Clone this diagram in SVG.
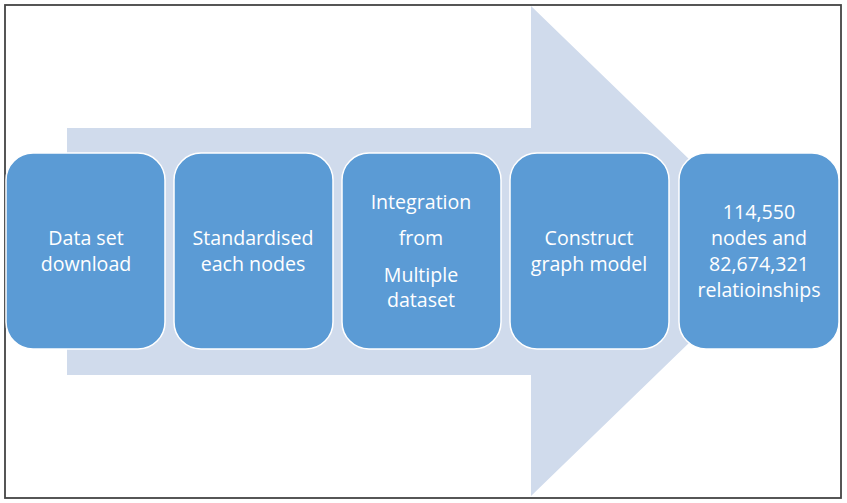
<svg xmlns="http://www.w3.org/2000/svg" width="847" height="503" viewBox="0 0 847 503">
<style>
.box{fill:#5B9BD5;stroke:#FFFFFF;stroke-width:1.5}
.t{font-family:"Open Sans","Liberation Sans",sans-serif;font-size:19.6px;fill:#FFFFFF;text-anchor:middle}
</style>
<rect x="0" y="0" width="847" height="503" fill="#FFFFFF"/>
<rect x="5" y="5" width="836" height="493" fill="#FFFFFF" stroke="#444444" stroke-width="1.8"/>
<g id="arrow">
<polygon points="67,128 531,128 531,6 784,251 531,496 531,375 67,375" fill="#D0DBEC"/>
</g>
<g id="connectors"></g>
<g id="n1">
<rect class="box" x="6" y="153" width="159" height="196" rx="27"/>
<text class="t" x="86" y="245">Data set</text>
<text class="t" x="86" y="271">download</text>
</g>
<g id="n2">
<rect class="box" x="174" y="153" width="159" height="196" rx="27"/>
<text class="t" x="253" y="245">Standardised</text>
<text class="t" x="253" y="271">each nodes</text>
</g>
<g id="n3">
<rect class="box" x="342" y="153" width="159" height="196" rx="27"/>
<text class="t" x="421" y="209">Integration</text>
<text class="t" x="421" y="245">from</text>
<text class="t" x="421" y="282">Multiple</text>
<text class="t" x="421" y="307">dataset</text>
</g>
<g id="n4">
<rect class="box" x="510" y="153" width="159" height="196" rx="27"/>
<text class="t" x="589" y="245">Construct</text>
<text class="t" x="589" y="271">graph model</text>
</g>
<g id="n5">
<rect class="box" x="679" y="153" width="160" height="196" rx="27"/>
<text class="t" x="759" y="219">114,550</text>
<text class="t" x="759" y="245">nodes and</text>
<text class="t" x="759" y="271">82,674,321</text>
<text class="t" x="759" y="297">relatioinships</text>
</g>
</svg>
